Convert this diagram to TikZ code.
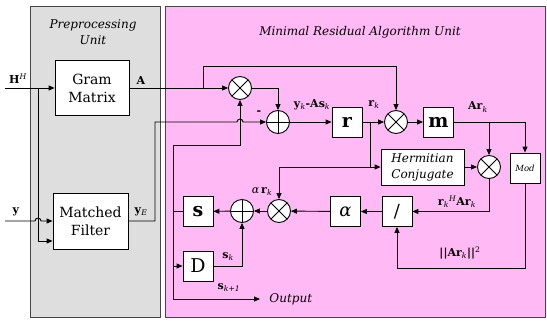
\documentclass[tikz,border=0pt]{standalone}
\usepackage{fontspec}
\setmainfont{DejaVu Serif}
\usetikzlibrary{arrows.meta}
\definecolor{pinkbg}{RGB}{255,186,245}
\definecolor{graybg}{RGB}{222,222,222}
\definecolor{frame}{RGB}{70,70,70}
\newcommand\ksub[1]{\textsubscript{\textit{#1}}}
\newcommand\ksup[1]{\textsuperscript{\textit{#1}}}
\begin{document}
\begin{tikzpicture}[x=1pt,y=-1pt, line width=0.9pt, line join=miter,
  arr/.style={-{Triangle[length=6pt,width=5pt]}},
  blk/.style={draw, fill=white, inner sep=0pt, align=center, line width=0.8pt},
  sq/.style={blk, minimum width=30pt, minimum height=30pt},
  mul/.style={circle, draw, fill=white, minimum size=23pt, inner sep=0pt,
    path picture={\draw (path picture bounding box.north west)--(path picture bounding box.south east)
      (path picture bounding box.north east)--(path picture bounding box.south west);}},
  add/.style={circle, draw, fill=white, minimum size=23pt, inner sep=0pt,
    path picture={\draw (path picture bounding box.north)--(path picture bounding box.south)
      (path picture bounding box.west)--(path picture bounding box.east);}},
  lbl/.style={font=\fontsize{11}{13}\selectfont, inner sep=0pt},
  ttl/.style={font=\fontsize{12}{16.5}\selectfont\itshape, align=center, inner sep=0pt},
  big/.style={font=\fontsize{19}{20}\selectfont\bfseries},
]
\useasboundingbox (0,0) rectangle (547,322);
% panels
\draw[frame, fill=graybg] (30,6) rectangle (160,317);
\draw[frame, fill=pinkbg] (165,6) rectangle (545,317);
\node[ttl] (pre) at (93,32) {Preprocessing\\Unit};
\node[ttl] (mra) at (360,32) {Minimal Residual Algorithm Unit};

% blocks
\node[blk, minimum width=74pt, minimum height=55pt, font=\fontsize{14}{18}\selectfont] (gram) at (92,88) {Gram\\Matrix};
\node[blk, minimum width=75pt, minimum height=56pt, font=\fontsize{14}{18}\selectfont] (mf) at (90.5,221) {Matched\\Filter};
\node[mul] (mul1) at (240,88) {};
\node[add] (add1) at (278,122) {};
\node[sq, big] (rbox) at (347,122) {r};
\node[mul] (mul2) at (396,122) {};
\node[sq, big] (mbox) at (438.5,122) {m};
\node[blk, minimum width=83pt, minimum height=36pt, font=\fontsize{12}{16}\selectfont\itshape] (herm) at (422.5,167) {Hermitian\\Conjugate};
\node[mul] (mul4) at (489,167) {};
\node[sq, font=\fontsize{8.5}{10}\selectfont\itshape] (mod) at (525,168) {Mod};
\node[sq, font=\fontsize{18}{20}\selectfont] (div) at (397,211.5) {/};
\node[sq, font=\fontsize{18}{20}\selectfont\itshape] (abox) at (345.5,211.5) {α};
\node[mul] (mul3) at (279,211) {};
\node[add] (add2) at (242,211) {};
\node[sq, big] (sbox) at (198,211.5) {s};
\node[sq, font=\fontsize{19}{20}\selectfont] (dbox) at (198,266) {D};

% helper coordinates
\coordinate (hin) at (5,88);
\coordinate (hb) at (38,88);
\coordinate (mfin2) at (38,241);
\coordinate (yin) at (5,221);
\coordinate (ab) at (203,88);
\coordinate (at) at (203,66);
\coordinate (ye1) at (155,221);
\coordinate (ye2) at (155,122);
\coordinate (rb) at (370,122);
\coordinate (rc) at (370,167);
\coordinate (mb) at (489,122);
\coordinate (modc) at (525,268);
\coordinate (ft) at (173,145);
\coordinate (fb) at (173,299);
\coordinate (out) at (260,299);

% connectors
\draw[arr] (hin) -- (gram.west);
\draw[arr] (hb) -- (mfin2) -- (mf.west |- mfin2);
\draw[arr] (yin) -- ([xshift=-3pt]hb |- yin) arc(180:360:3) -- (mf.west |- yin);
\draw[arr] (gram.east) -- (mul1.west);
\draw[arr] (ab) -- (at) -| (mul2.north);
\draw[arr] (mf.east |- ye1) -- (ye1) -- (ye2) -- ([xshift=-3pt]mul1.center |- ye2) arc(180:360:3) -- (add1.west);
\draw[arr] (mul1.east) -| (add1.north);
\draw[arr] (add1) -- (rbox);
\draw[arr] (rbox) -- (mul2);
\draw[arr] (rb) -- (rc) -- (herm.west |- rc);
\draw[arr] (rc) -| (mul3.north);
\draw[arr] (mul2) -- (mbox);
\draw[arr] (mbox.east) -| (mod.north);
\draw[arr] (mb) -- (mul4.north);
\draw[arr] (herm) -- (mul4);
\draw[arr] (mul4.south) |- (div.east);
\draw[arr] (mod.south) -- (modc) -| (div.south);
\draw[arr] (div) -- (abox);
\draw[arr] (abox) -- (mul3);
\draw[arr] (mul3) -- (add2);
\draw[arr] (add2) -- (sbox);
\draw (sbox.west) -- (sbox.west -| ft);
\draw[arr] (fb) -- (ft) -| (mul1.south);
\draw[arr] (fb) -- (out);
\draw[arr] (dbox.west -| ft) -- (dbox.west);
\draw[arr] (dbox.east) -| (add2.south);

% labels
\node[lbl] (lh) at (18,79) {\textbf{H}\ksup{H}};
\node[lbl] (ly) at (16,212) {\textbf{y}};
\node[lbl] (la) at (141,80) {\textbf{A}};
\node[lbl] (lye) at (141,212) {\textbf{y}\ksub{E}};
\node[lbl] (lm) at (259,113) {\textbf{-}};
\node[lbl] (lres) at (312,105) {\textbf{y}\ksub{k}\textbf{-As}\ksub{k}};
\node[lbl] (lr) at (374,105) {\textbf{r}\ksub{k}};
\node[lbl] (lar) at (478,107) {\textbf{Ar}\ksub{k}};
\node[lbl] (lrar) at (457,202) {\textbf{r}\ksub{k}\ksup{H}\textbf{Ar}\ksub{k}};
\node[lbl] (lnorm) at (460,253) {\textbf{||Ar}\ksub{k}\textbf{||}\textsuperscript{2}};
\node[lbl] (lalr) at (262,192) {\textit{α}\,\textbf{r}\ksub{k}};
\node[lbl] (lsk) at (228,257) {\textbf{s}\ksub{k}};
\node[lbl] (lsk1) at (229,288) {\textbf{s}\ksub{k+1}};
\node[font=\fontsize{12}{14}\selectfont\itshape, inner sep=0pt, anchor=west] (lout) at (269,299) {Output};
\end{tikzpicture}
\end{document}
